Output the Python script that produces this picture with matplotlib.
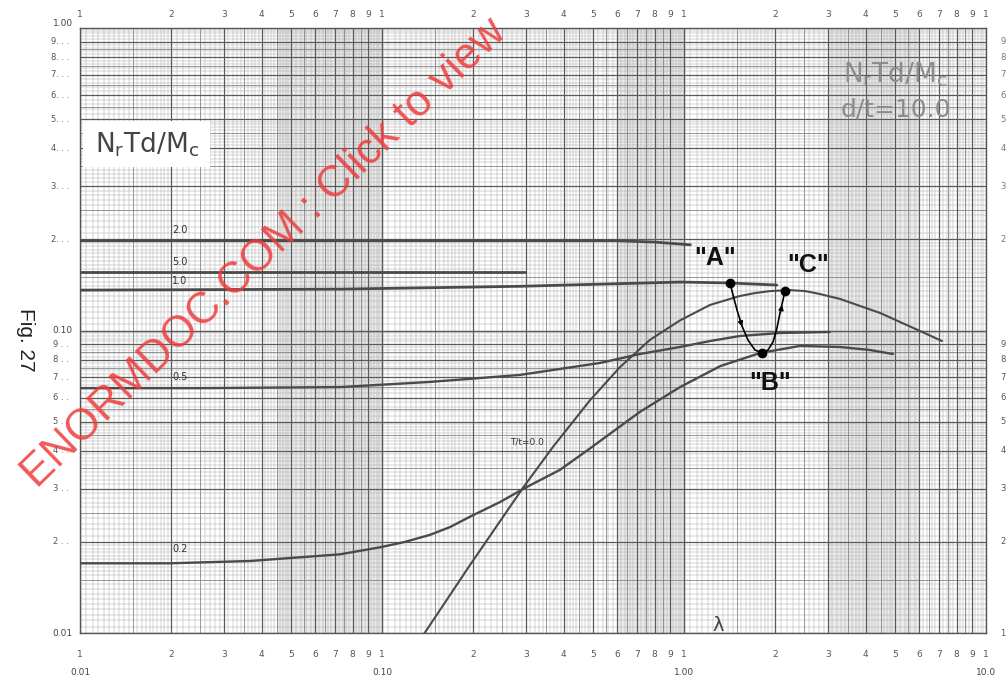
import matplotlib.pyplot as plt
import numpy as np

plt.rcParams['mathtext.default'] = 'regular'

# lambda values and N_r*T*d/M_c for each T/t curve (d/t = 10.0)
lam_t20 = [0.01, 0.1, 0.4, 0.6, 0.8, 1.05]
val_t20 = [0.198, 0.198, 0.198, 0.198, 0.196, 0.192]

lam_t50 = [0.01, 0.1, 0.298]
val_t50 = [0.156, 0.156, 0.156]

lam_t10 = [0.01, 0.0726, 0.286, 0.97, 1.42, 2.03]
val_t10 = [0.136, 0.137, 0.140, 0.1446, 0.1436, 0.1413]

lam_t05 = [0.01, 0.0249, 0.0726, 0.144, 0.286, 0.527, 0.714, 0.97, 1.22, 1.53, 2.08, 3.04]
val_t05 = [0.0645, 0.0645, 0.0650, 0.0676, 0.0713, 0.0781, 0.0836, 0.0882, 0.0923, 0.0959,
           0.0981, 0.0989]

lam_t02 = [0.01, 0.0199, 0.0366, 0.0726, 0.0985, 0.119, 0.144, 0.168, 0.195, 0.246, 0.298,
           0.388, 0.481, 0.714, 0.97, 1.32, 1.79, 2.42, 3.29, 4.13, 4.92]
val_t02 = [0.0170, 0.0170, 0.0173, 0.0182, 0.0192, 0.0200, 0.0211, 0.0224, 0.0242, 0.0271,
           0.0302, 0.0346, 0.0403, 0.0538, 0.0650, 0.0763, 0.0843, 0.0889, 0.0882, 0.0862,
           0.0836]

lam_t00 = [0.137, 0.195, 0.293, 0.368, 0.489, 0.614, 0.771, 0.97, 1.22, 1.53, 1.72, 1.93,
           2.24, 2.52, 2.82, 3.29, 3.83, 4.46, 5.19, 6.05, 7.15]
val_t00 = [0.00985, 0.0167, 0.0302, 0.0412, 0.0589, 0.0757, 0.0931, 0.108, 0.1215, 0.130,
           0.133, 0.135, 0.136, 0.135, 0.132, 0.1271, 0.1205, 0.1143, 0.1067, 0.0996, 0.0923]

curve_names = ['2.0', '5.0', '1.0', '0.5', '0.2']
name_lam = [0.0214, 0.0214, 0.0214, 0.0214, 0.0214]
name_val = [0.215, 0.168, 0.146, 0.0702, 0.0190]

# path A -> B -> C drawn over the curves
path_lam = [1.42, 1.453, 1.498, 1.556, 1.629, 1.718, 1.813, 1.897, 1.971, 2.032, 2.079,
            2.127, 2.16]
path_val = [0.1436, 0.1310, 0.1169, 0.1035, 0.0930, 0.0862, 0.0843, 0.0862, 0.0916, 0.1019,
            0.1143, 0.1261, 0.135]
point_names = ['"A"', '"B"', '"C"']
point_lam = [1.42, 1.813, 2.16]
point_val = [0.1436, 0.0843, 0.135]
point_text_lam = [1.27, 1.93, 2.58]
point_text_val = [0.174, 0.067, 0.165]

digits = ['1', '2', '3', '4', '5', '6', '7', '8', '9']
x_decades = ['0.01', '0.10', '1.00', '10.0']
y_decades = ['0.01', '0.10', '1.00']


def paper_lines(lo, hi):
    """Line positions of log paper between 10**lo and 10**hi."""
    major, mid, fine = [], [], []
    for e in range(lo, hi):
        base = 10.0 ** e
        major += [k * base for k in range(1, 11)]
        mid += [(k + 0.5) * base for k in range(1, 9)]
        for m in np.arange(1.05, 2.0, 0.05):
            if abs(m - 1.5) > 1e-6:
                fine.append(m * base)
        for m in np.arange(2.1, 5.0, 0.1):
            if abs(m * 2 - round(m * 2)) > 1e-6:
                fine.append(m * base)
        for m in np.arange(5.2, 10.0, 0.2):
            if abs(m * 2 - round(m * 2)) > 1e-6:
                fine.append(m * base)
    return major, mid, fine


fig = plt.figure(figsize=(10.08, 6.8), dpi=100)
ax = fig.add_axes([80 / 1008, 1 - 633 / 680, 906 / 1008, 605 / 680])
ax.set_xscale('log')
ax.set_yscale('log')
ax.set_xlim(0.01, 10)
ax.set_ylim(0.01, 1)

# grey patches of the printed sheet
for a, b in [(0.045, 0.1), (0.6, 1.0), (3.0, 6.0)]:
    ax.axvspan(a, b, color='#c4c4c4', alpha=0.35, lw=0, zorder=0)

# graph paper
xm, xh, xf = paper_lines(-2, 1)
ym, yh, yf = paper_lines(-2, 0)
for v in xf:
    ax.axvline(v, color='#a8a8a8', lw=0.35, zorder=1)
for v in yf:
    ax.axhline(v, color='#a8a8a8', lw=0.35, zorder=1)
for v in xh:
    ax.axvline(v, color='#858585', lw=0.6, zorder=1)
for v in yh:
    ax.axhline(v, color='#858585', lw=0.6, zorder=1)
for v in xm:
    ax.axvline(v, color='#5a5a5a', lw=0.9, zorder=1)
for v in ym:
    ax.axhline(v, color='#5a5a5a', lw=0.9, zorder=1)

# curves
for lam, val, lw in [(lam_t20, val_t20, 2.0), (lam_t50, val_t50, 2.0), (lam_t10, val_t10, 2.0),
                     (lam_t05, val_t05, 1.7), (lam_t02, val_t02, 1.7), (lam_t00, val_t00, 1.5)]:
    ax.plot(lam, val, color='#4a4a4a', lw=lw, zorder=3, solid_capstyle='round',
            solid_joinstyle='round')

for name, lx, ly in zip(curve_names, name_lam, name_val):
    ax.text(lx, ly, name, fontsize=7, color='#333333', ha='center', va='center', zorder=4)
ax.text(0.302, 0.0428, 'T/t=0.0', fontsize=6.5, color='#333333', ha='center', va='center',
        zorder=4)

# A - B - C
ax.plot(path_lam, path_val, color='black', lw=1.2, zorder=5, solid_joinstyle='round')
ax.plot(point_lam, point_val, 'o', color='black', ms=6, zorder=6)
ax.annotate('', xy=(1.57, 0.101), xytext=(1.52, 0.111),
            arrowprops=dict(arrowstyle='-|>', color='black', lw=0.8, mutation_scale=8), zorder=6)
ax.annotate('', xy=(2.12, 0.124), xytext=(2.08, 0.112),
            arrowprops=dict(arrowstyle='-|>', color='black', lw=0.8, mutation_scale=8), zorder=6)
for name, lx, ly in zip(point_names, point_text_lam, point_text_val):
    ax.text(lx, ly, name, fontsize=18, fontweight='bold', family='Liberation Sans',
            color='#111111', ha='center', va='center', zorder=6)

# titles written on the sheet
ax.add_patch(plt.Rectangle((0.003, 0.77), 0.14, 0.076, transform=ax.transAxes,
                           facecolor='white', edgecolor='none', zorder=4))
ax.text(0.074, 0.807, 'N$_r$Td/M$_c$', transform=ax.transAxes, fontsize=19,
        color='#444444', ha='center', va='center', zorder=5)
ax.text(0.90, 0.923, 'N$_r$Td/M$_c$', transform=ax.transAxes, fontsize=19,
        color='#8c8c8c', ha='center', va='center', zorder=5)
ax.text(0.90, 0.866, 'd/t=10.0', transform=ax.transAxes, fontsize=18,
        color='#8c8c8c', ha='center', va='center', zorder=5)
ax.text(1.30, 0.0106, 'λ', fontsize=14, color='#444444', ha='center', va='center', zorder=5)

for side in ax.spines.values():
    side.set_color('#555555')
    side.set_linewidth(1.0)
ax.set_xticks([])
ax.set_yticks([])
ax.minorticks_off()

# scale numbers round the sheet
tx = ax.get_xaxis_transform()
ty = ax.get_yaxis_transform()
for e, dec in zip(range(-2, 1), x_decades[:3]):
    for k, d in enumerate(digits):
        pos = (k + 1) * 10.0 ** e
        ax.text(pos, 1.023, d, transform=tx, fontsize=6.5, color='#555555', ha='center',
                va='center', clip_on=False)
        ax.text(pos, -0.035, d, transform=tx, fontsize=6.5, color='#555555', ha='center',
                va='center', clip_on=False)
    ax.text(10.0 ** e, -0.066, dec, transform=tx, fontsize=6.5, color='#444444',
            ha='center', va='center', clip_on=False)
ax.text(10, 1.023, '1', transform=tx, fontsize=6.5, color='#555555', ha='center', va='center',
        clip_on=False)
ax.text(10, -0.035, '1', transform=tx, fontsize=6.5, color='#555555', ha='center', va='center',
        clip_on=False)
ax.text(10, -0.066, x_decades[3], transform=tx, fontsize=6.5, color='#444444', ha='center',
        va='center', clip_on=False)

for e, dec in zip(range(-2, 0), y_decades[:2]):
    for k, d in enumerate(digits[1:]):
        pos = (k + 2) * 10.0 ** e
        label = d + '.' if e == -1 else d
        ax.text(-0.012, pos, label + ' . .', transform=ty, fontsize=6, color='#555555',
                ha='right', va='center', clip_on=False)
        ax.text(1.019, pos, d, transform=ty, fontsize=6, color='#777777' if e == -1 else '#555555',
                ha='center', va='center', clip_on=False)
    ax.text(-0.008, 10.0 ** e, dec, transform=ty, fontsize=6.5, color='#444444', ha='right',
            va='center', clip_on=False)
ax.text(-0.008, 1.0, y_decades[2], transform=ty, fontsize=6.5, color='#444444', ha='right',
        va='bottom', clip_on=False)
ax.text(1.019, 0.01, '1', transform=ty, fontsize=6, color='#555555', ha='center', va='center',
        clip_on=False)

fig.text(0.025, 0.50, 'Fig. 27', rotation=270, fontsize=15, family='Liberation Sans',
         color='#222222', ha='center', va='center')

fig.text(0.262, 0.627, 'ENORMDOC.COM : Click to view', rotation=44, fontsize=31.5,
         family='Liberation Sans', color='#ee3b3b', alpha=0.85, ha='center', va='center',
         rotation_mode='anchor', zorder=10)

fig.savefig('out.png', dpi=100, facecolor='white')
